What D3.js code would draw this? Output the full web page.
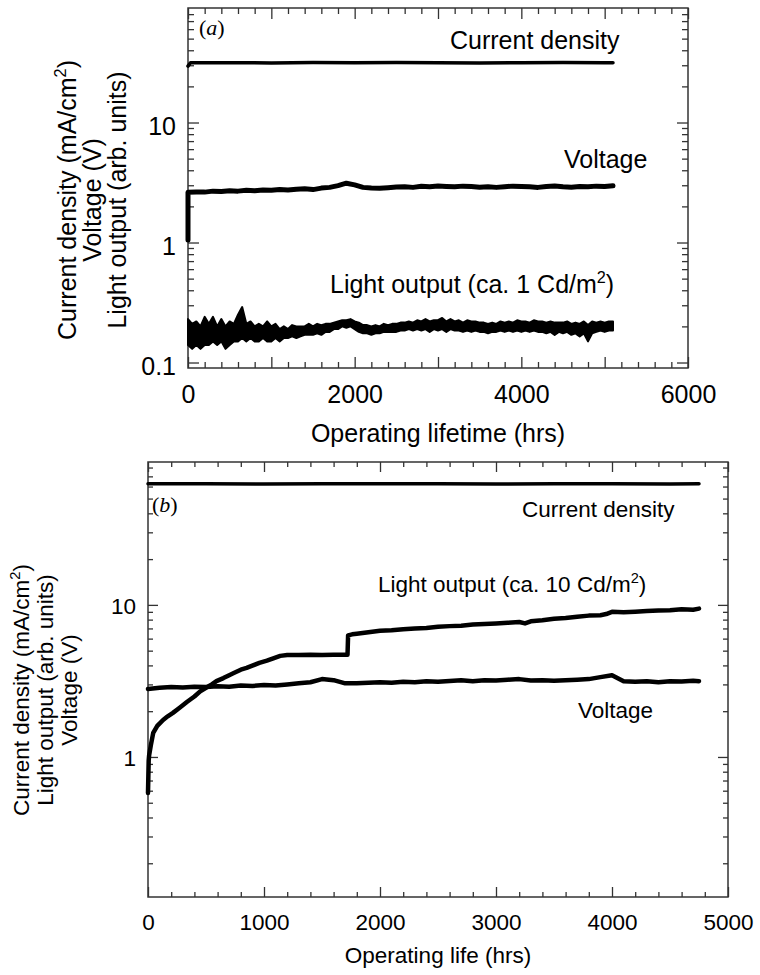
<!DOCTYPE html>
<html><head><meta charset="utf-8">
<script src="https://cdn.jsdelivr.net/npm/d3@7"></script>
<style>body{margin:0;background:#fff}</style>
</head><body>
<svg id="c" width="760" height="975"></svg>
<script>
// ================= DATA =================
// ---- Panel (a) ----
const xTickValsA = [0, 2000, 4000, 6000];
const xTickLabelsA = ["0", "2000", "4000", "6000"];
const yTickValsA = [0.1, 1, 10];
const yTickLabelsA = ["0.1", "1", "10"];

const curTimesA = [0, 30, 500, 1000, 1500, 2000, 2500, 3000, 3500, 4000, 4500, 5000, 5100];
const curA =      [29.5, 31.5, 31.5, 31.4, 31.6, 31.5, 31.6, 31.5, 31.4, 31.5, 31.6, 31.5, 31.5];

const voltStartA = 1.05;          // value at t = 0 before the jump
const voltStepA = 100;            // hours between samples
const voltA = [
  2.62, 2.64, 2.63, 2.68, 2.66, 2.70, 2.68, 2.72, 2.70, 2.74,
  2.72, 2.76, 2.74, 2.78, 2.80, 2.76, 2.84, 2.88, 2.98, 3.12,
  3.02, 2.88, 2.84, 2.83, 2.86, 2.90, 2.92, 2.88, 2.94, 2.92,
  2.96, 2.93, 2.91, 2.95, 2.93, 2.89, 2.92, 2.88, 2.92, 2.95,
  2.93, 2.91, 2.88, 2.93, 2.96, 2.91, 2.89, 2.93, 2.91, 2.95,
  2.93, 2.97
];

// light output (a): noisy band, lower and upper envelope every 50 h
const lightStepA = 50;
const lightLowA = [
  0.14, 0.13, 0.14, 0.13, 0.14, 0.14, 0.15, 0.14, 0.15, 0.13,
  0.14, 0.15, 0.15, 0.16, 0.15, 0.16, 0.15, 0.15, 0.16, 0.15,
  0.15, 0.16, 0.15, 0.16, 0.16, 0.165, 0.16, 0.165, 0.17, 0.17,
  0.17, 0.175, 0.17, 0.18, 0.18, 0.19, 0.19, 0.2, 0.195, 0.2,
  0.19, 0.18, 0.175, 0.175, 0.17, 0.175, 0.175, 0.18, 0.18, 0.18,
  0.18, 0.185, 0.185, 0.19, 0.185, 0.19, 0.185, 0.19, 0.18, 0.19,
  0.185, 0.19, 0.18, 0.19, 0.185, 0.185, 0.18, 0.185, 0.18, 0.185,
  0.18, 0.18, 0.175, 0.18, 0.18, 0.185, 0.18, 0.185, 0.18, 0.185,
  0.18, 0.185, 0.18, 0.185, 0.18, 0.18, 0.175, 0.18, 0.17, 0.18,
  0.175, 0.18, 0.17, 0.175, 0.165, 0.175, 0.15, 0.175, 0.18, 0.185,
  0.18, 0.185, 0.185
];
const lightHighA = [
  0.23, 0.21, 0.22, 0.20, 0.24, 0.21, 0.24, 0.20, 0.23, 0.20,
  0.22, 0.21, 0.25, 0.29, 0.21, 0.22, 0.20, 0.21, 0.20, 0.22,
  0.20, 0.21, 0.19, 0.20, 0.19, 0.205, 0.20, 0.20, 0.20, 0.21,
  0.20, 0.21, 0.205, 0.21, 0.21, 0.215, 0.22, 0.225, 0.225, 0.23,
  0.22, 0.215, 0.205, 0.205, 0.20, 0.205, 0.20, 0.21, 0.205, 0.21,
  0.21, 0.215, 0.215, 0.22, 0.215, 0.225, 0.22, 0.23, 0.22, 0.225,
  0.225, 0.235, 0.22, 0.23, 0.22, 0.225, 0.215, 0.225, 0.22, 0.22,
  0.215, 0.215, 0.21, 0.215, 0.21, 0.22, 0.215, 0.22, 0.215, 0.225,
  0.22, 0.22, 0.215, 0.225, 0.22, 0.22, 0.215, 0.22, 0.215, 0.215,
  0.215, 0.22, 0.21, 0.215, 0.21, 0.22, 0.205, 0.22, 0.215, 0.22,
  0.215, 0.22, 0.22
];

// ---- Panel (b) ----
const xTickValsB = [0, 1000, 2000, 3000, 4000, 5000];
const xTickLabelsB = ["0", "1000", "2000", "3000", "4000", "5000"];
const yTickValsB = [1, 10];
const yTickLabelsB = ["1", "10"];

const curTimesB = [0, 500, 1000, 1500, 2000, 2500, 3000, 3500, 4000, 4500, 4750];
const curB =      [62.5, 62.6, 62.4, 62.5, 62.6, 62.5, 62.4, 62.5, 62.5, 62.4, 62.5];

const voltTimesB = [0, 100, 200, 300, 400, 500, 600, 700, 800, 900,
  1000, 1100, 1200, 1300, 1400, 1500, 1600, 1700, 1800, 1900,
  2000, 2100, 2200, 2300, 2400, 2500, 2600, 2700, 2800, 2900,
  3000, 3100, 3200, 3300, 3400, 3500, 3600, 3700, 3800, 3900,
  4000, 4100, 4200, 4300, 4400, 4500, 4600, 4700, 4750];
const voltB = [2.80, 2.85, 2.88, 2.86, 2.90, 2.88, 2.92, 2.90, 2.95, 2.93,
  2.97, 2.95, 3.00, 3.05, 3.10, 3.25, 3.20, 3.05, 3.05, 3.08,
  3.10, 3.08, 3.12, 3.10, 3.15, 3.12, 3.16, 3.20, 3.15, 3.20,
  3.18, 3.22, 3.25, 3.18, 3.20, 3.17, 3.20, 3.22, 3.25, 3.35,
  3.45, 3.15, 3.12, 3.15, 3.10, 3.15, 3.13, 3.17, 3.15];

const lightTimesB = [0, 3, 6, 10, 25, 45, 80, 130, 170, 215,
  270, 335, 400, 450, 500, 550, 590, 650, 700, 735,
  800, 850, 905, 960, 1025, 1080, 1140, 1200, 1300, 1400,
  1500, 1600, 1720, 1725, 1760, 1800, 1900, 2000, 2100, 2200,
  2300, 2400, 2500, 2600, 2700, 2800, 2900, 3000, 3100, 3200,
  3250, 3300, 3400, 3500, 3600, 3700, 3800, 3900, 3950, 4000,
  4100, 4200, 4300, 4400, 4500, 4600, 4700, 4750];
const lightB = [0.58, 0.75, 0.95, 1.03, 1.2, 1.44, 1.6, 1.75, 1.85, 1.95,
  2.1, 2.3, 2.5, 2.7, 2.85, 3.0, 3.15, 3.3, 3.45, 3.55,
  3.75, 3.85, 4.0, 4.15, 4.3, 4.45, 4.62, 4.68, 4.68, 4.7,
  4.69, 4.7, 4.7, 6.3, 6.4, 6.45, 6.6, 6.75, 6.8, 6.92,
  7.0, 7.05, 7.18, 7.25, 7.3, 7.42, 7.5, 7.55, 7.62, 7.72,
  7.55, 7.8, 7.92, 8.1, 8.2, 8.35, 8.5, 8.55, 8.7, 9.0,
  8.95, 9.02, 9.12, 9.2, 9.22, 9.35, 9.3, 9.45];

// ================= DRAWING =================
const FONT = "'Liberation Sans', Arial, Helvetica, sans-serif";
const SERIF = "'Liberation Serif', 'Times New Roman', serif";
const svg = d3.select("#c");

function logMinor(domain) {
  const out = [];
  for (let e = -3; e <= 3; e++) {
    for (let m = 2; m <= 9; m++) {
      const v = m * Math.pow(10, e);
      if (v > domain[0] * 1.01 && v < domain[1] * 0.99) out.push(+v.toPrecision(3));
    }
  }
  return out;
}
function linRange(a, b, s) { const o = []; for (let v = a; v <= b + 1e-9; v += s) o.push(v); return o; }

function axes(g, x, y, o) {
  const [x0, x1] = x.range();
  const [y0, y1] = y.range();
  const xLab = d => { const i = o.xVals.indexOf(d); return i >= 0 ? o.xLabels[i] : ""; };
  const yLab = d => { const i = o.yVals.indexOf(d); return i >= 0 ? o.yLabels[i] : ""; };
  const xMinor = linRange(x.domain()[0], x.domain()[1], o.xMinorStep).filter(v => o.xMajor.indexOf(v) < 0);
  const yMinor = logMinor(y.domain());
  const yMajor = o.yMajor;

  const add = (tr, ax) => g.append("g").attr("transform", tr).call(ax);
  add(`translate(0,${y0})`, d3.axisBottom(x).tickValues(o.xMajor).tickSize(-o.major).tickSizeOuter(0).tickPadding(o.xPad).tickFormat(xLab));
  add(`translate(0,${y0})`, d3.axisBottom(x).tickValues(xMinor).tickSize(-o.minor).tickSizeOuter(0).tickFormat(""));
  add(`translate(0,${y1})`, d3.axisTop(x).tickValues(o.xMajor).tickSize(-o.major).tickSizeOuter(0).tickFormat(""));
  add(`translate(0,${y1})`, d3.axisTop(x).tickValues(xMinor).tickSize(-o.minor).tickSizeOuter(0).tickFormat(""));
  const yl = add(`translate(${x0},0)`, d3.axisLeft(y).tickValues(yMajor).tickSize(-o.major).tickSizeOuter(0).tickPadding(o.yPad).tickFormat(yLab));
  add(`translate(${x0},0)`, d3.axisLeft(y).tickValues(yMinor).tickSize(-o.minor).tickSizeOuter(0).tickFormat(""));
  add(`translate(${x1},0)`, d3.axisRight(y).tickValues(yMajor).tickSize(-o.major).tickSizeOuter(0).tickFormat(""));
  add(`translate(${x1},0)`, d3.axisRight(y).tickValues(yMinor).tickSize(-o.minor).tickSizeOuter(0).tickFormat(""));
  g.selectAll(".domain").remove();
  g.selectAll(".tick line").attr("stroke", "#333").attr("stroke-width", 1.3);
  g.selectAll("text").attr("font-family", FONT).attr("font-size", o.fs).attr("fill", "#000");
  yl.selectAll("text").attr("dy", o.yDy);
  g.append("rect").attr("x", x0).attr("y", y1).attr("width", x1 - x0).attr("height", y0 - y1)
    .attr("fill", "none").attr("stroke", "#333").attr("stroke-width", 1.5);
}

function supText(g, x, y, fs, pre, sup, post, attrs) {
  const t = g.append("text").attr("x", x).attr("y", y).attr("font-family", FONT).attr("font-size", fs).attr("fill", "#000");
  if (attrs) Object.entries(attrs).forEach(([k, v]) => t.attr(k, v));
  t.append("tspan").text(pre);
  if (sup) {
    t.append("tspan").attr("dy", -fs * 0.4).attr("font-size", fs * 0.65).text(sup);
    t.append("tspan").attr("dy", fs * 0.4).text(post);
  }
  return t;
}

function series(g, x, y, pts, w) {
  g.append("path").datum(pts)
    .attr("d", d3.line().x(d => x(d[0])).y(d => y(d[1])))
    .attr("fill", "none").attr("stroke", "#000").attr("stroke-width", w)
    .attr("stroke-linejoin", "round").attr("stroke-linecap", "round");
}

// ---------- Panel (a) ----------
{
  const g = svg.append("g");
  const x = d3.scaleLinear().domain([0, 6000]).range([188, 688]);
  const y = d3.scaleLog().domain([0.09, 90]).range([368, 8]);
  axes(g, x, y, { xMajor: [0, 1000, 2000, 3000, 4000, 5000, 6000], xVals: xTickValsA, xLabels: xTickLabelsA,
    xMinorStep: 200, yMajor: yTickValsA, yVals: yTickValsA, yLabels: yTickLabelsA,
    major: 11, minor: 6, xPad: 17, yPad: 12, fs: 25, yDy: "0.48em" });

  series(g, x, y, curTimesA.map((t, i) => [t, curA[i]]), 3.5);
  series(g, x, y, [[0, voltStartA]].concat(voltA.map((v, i) => [i * voltStepA, v])), 5);

  const band = lightLowA.map((lo, i) => ({ t: i * lightStepA, lo, hi: lightHighA[i] }));
  g.append("path").datum(band)
    .attr("d", d3.area().x(d => x(d.t)).y0(d => y(d.lo)).y1(d => y(d.hi)))
    .attr("fill", "#000").attr("stroke", "#000").attr("stroke-width", 2).attr("stroke-linejoin", "round");

  supText(g, 450, 49, 25, "Current density");
  supText(g, 564, 168, 25, "Voltage");
  supText(g, 330, 293, 25, "Light output (ca. 1 Cd/m", "2", ")");
  g.append("text").attr("x", 199).attr("y", 35).attr("font-family", SERIF).attr("font-size", 22)
    .html("(<tspan font-style='italic'>a</tspan>)");

  g.append("text").attr("x", 438).attr("y", 442).attr("text-anchor", "middle")
    .attr("font-family", FONT).attr("font-size", 25).text("Operating lifetime (hrs)");
  const cy = 200;
  supText(g, 0, 0, 25, "Current density (mA/cm", "2", ")", { "text-anchor": "middle", transform: `translate(76,${cy}) rotate(-90)` });
  supText(g, 0, 0, 25, "Voltage (V)", null, null, { "text-anchor": "middle", transform: `translate(101,${cy}) rotate(-90)` });
  supText(g, 0, 0, 25, "Light output (arb. units)", null, null, { "text-anchor": "middle", transform: `translate(126,${cy}) rotate(-90)` });
}

// ---------- Panel (b) ----------
{
  const g = svg.append("g");
  const x = d3.scaleLinear().domain([0, 5000]).range([148, 728]);
  const y = d3.scaleLog().domain([0.12, 87]).range([897, 462]);
  axes(g, x, y, { xMajor: xTickValsB, xVals: xTickValsB, xLabels: xTickLabelsB,
    xMinorStep: 200, yMajor: yTickValsB, yVals: yTickValsB, yLabels: yTickLabelsB,
    major: 10, minor: 5, xPad: 17, yPad: 12, fs: 22.5, yDy: "0.4em" });

  series(g, x, y, curTimesB.map((t, i) => [t, curB[i]]), 3.5);
  series(g, x, y, voltTimesB.map((t, i) => [t, voltB[i]]), 4.5);
  series(g, x, y, lightTimesB.map((t, i) => [t, lightB[i]]), 4.5);

  supText(g, 522, 517, 22.5, "Current density");
  supText(g, 378, 592, 22.5, "Light output (ca. 10 Cd/m", "2", ")");
  supText(g, 578, 718, 22.5, "Voltage");
  g.append("text").attr("x", 152).attr("y", 512).attr("font-family", SERIF).attr("font-size", 22)
    .html("(<tspan font-style='italic'>b</tspan>)");

  g.append("text").attr("x", 438).attr("y", 963).attr("text-anchor", "middle")
    .attr("font-family", FONT).attr("font-size", 22.5).text("Operating life (hrs)");
  const cy = 690;
  supText(g, 0, 0, 22.5, "Current density (mA/cm", "2", ")", { "text-anchor": "middle", transform: `translate(29,${cy}) rotate(-90)` });
  supText(g, 0, 0, 22.5, "Light output (arb. units)", null, null, { "text-anchor": "middle", transform: `translate(53,${cy}) rotate(-90)` });
  supText(g, 0, 0, 22.5, "Voltage (V)", null, null, { "text-anchor": "middle", transform: `translate(77,${cy}) rotate(-90)` });
}
</script>
</body></html>
